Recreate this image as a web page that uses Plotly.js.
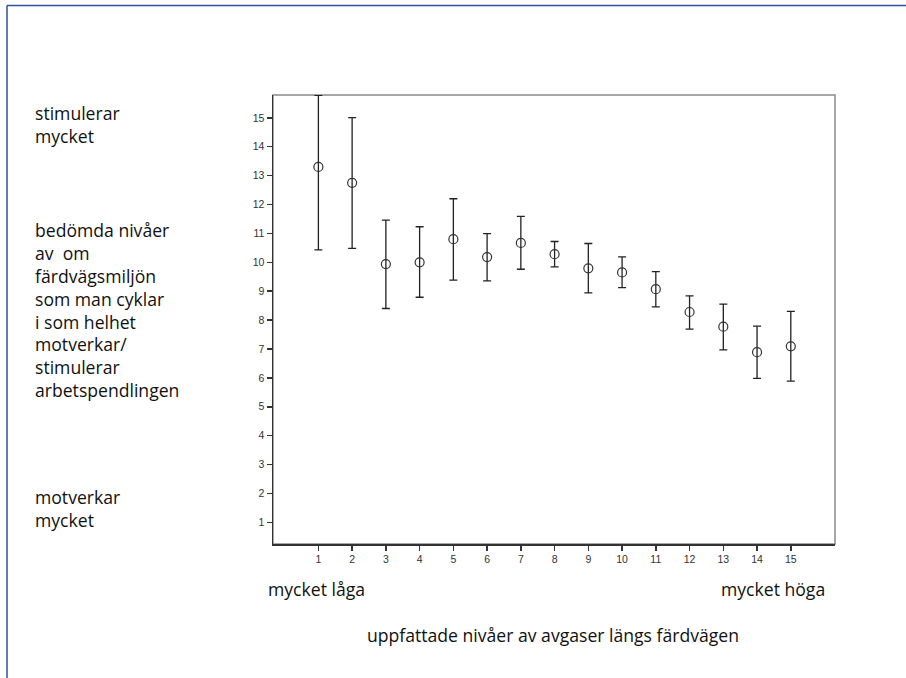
<!DOCTYPE html>
<html>
<head>
<meta charset="utf-8">
<script src="https://cdn.plot.ly/plotly-3.0.1.min.js"></script>
<style>
html,body{margin:0;padding:0;background:#fff;}
#chart{width:906px;height:678px;}
</style>
</head>
<body>
<div id="chart"></div>
<script>
// Data
const categories = [1,2,3,4,5,6,7,8,9,10,11,12,13,14,15];
const means = [13.30,12.75,9.94,10.00,10.80,10.18,10.67,10.28,9.79,9.65,9.07,8.28,7.77,6.89,7.09];
const upper = [15.78,15.01,11.46,11.23,12.20,10.99,11.59,10.72,10.65,10.19,9.68,8.84,8.55,7.79,8.30];
const lower = [10.43,10.48,8.40,8.79,9.38,9.36,9.76,9.84,8.94,9.12,8.46,7.69,6.97,5.98,5.89];
const yTicks = [1,2,3,4,5,6,7,8,9,10,11,12,13,14,15];
const xTicks = [1,2,3,4,5,6,7,8,9,10,11,12,13,14,15];

const topLabel = ["stimulerar","mycket"];
const midLabel = ["bedömda nivåer","av  om","färdvägsmiljön","som man cyklar","i som helhet","motverkar/","stimulerar","arbetspendlingen"];
const bottomLabel = ["motverkar","mycket"];
const xLowLabel = "mycket låga";
const xHighLabel = "mycket höga";
const xTitle = "uppfattade nivåer av avgaser längs färdvägen";

const W = 906, H = 678;
const M = {l:273, r:71, t:95, b:134};
const pw = W - M.l - M.r, ph = H - M.t - M.b;
const px = x => (x - M.l) / pw;
const py = y => (H - M.b - y) / ph;

const errPlus = upper.map((u,i) => u - means[i]);
const errMinus = lower.map((l,i) => means[i] - l);

const trace = {
  x: categories, y: means, type: 'scatter', mode: 'markers',
  marker: {symbol: 'circle-open', size: 9, color: '#333', line: {width: 1.2, color: '#333'}},
  error_y: {type: 'data', symmetric: false, array: errPlus, arrayminus: errMinus,
            color: '#222', thickness: 1.3, width: 4},
  showlegend: false, hoverinfo: 'skip'
};

const font = "'Open Sans', sans-serif";
const fs = 17.6;
const ann = [];
function addBlock(lines, x, yc){
  ann.push({text: lines.join('<br>'), xref:'paper', yref:'paper', x: px(x), y: py(yc),
    xanchor:'left', yanchor:'middle', align:'left', showarrow:false, font:{family: font, size: fs, color:'#111'}});
}
addBlock(topLabel, 33, 124.5);
addBlock(midLabel, 33, 309.5);
addBlock(bottomLabel, 33, 508.5);
ann.push({text: xLowLabel, xref:'paper', yref:'paper', x: px(266), y: py(589), xanchor:'left', yanchor:'middle', showarrow:false, font:{family: font, size: fs, color:'#111'}});
ann.push({text: xHighLabel, xref:'paper', yref:'paper', x: px(827), y: py(589), xanchor:'right', yanchor:'middle', showarrow:false, font:{family: font, size: fs, color:'#111'}});
ann.push({text: xTitle, xref:'paper', yref:'paper', x: px(553), y: py(635), xanchor:'center', yanchor:'middle', showarrow:false, font:{family: font, size: fs, color:'#111'}});

const shapes = [
  {type:'rect', xref:'paper', yref:'paper', x0:0, x1:1, y0:0, y1:1, line:{color:'#8a8a8a', width:1.5}, layer:'below'},
  {type:'line', xref:'paper', yref:'paper', x0:px(7), x1:px(906), y0:py(5.5), y1:py(5.5), line:{color:'#2f4fa0', width:1.5}},
  {type:'line', xref:'paper', yref:'paper', x0:px(7), x1:px(7), y0:py(5.5), y1:py(678), line:{color:'#2f4fa0', width:1.5}}
];

const layout = {
  width: W, height: H, margin: M,
  paper_bgcolor:'#fff', plot_bgcolor:'#fff',
  showlegend:false,
  xaxis: {range:[-0.345, 16.31], tickvals: xTicks, ticktext: xTicks.map(String), ticks:'outside', ticklen:5, tickwidth:1.5, tickcolor:'#333',
          showgrid:false, zeroline:false, showline:true, linecolor:'#333', linewidth:1.5,
          tickfont:{family:"'Liberation Sans', Arial, sans-serif", size:10.5, color:'#333'}},
  yaxis: {range:[0.25, 15.79], tickvals: yTicks, ticktext: yTicks.map(String), ticks:'outside', ticklen:5, tickwidth:1.5, tickcolor:'#333',
          showgrid:false, zeroline:false, showline:true, linecolor:'#333', linewidth:1.5,
          tickfont:{family:"'Liberation Sans', Arial, sans-serif", size:10.5, color:'#333'}},
  annotations: ann,
  shapes: shapes
};

Plotly.newPlot('chart', [trace], layout, {displayModeBar:false, staticPlot:true});
</script>
</body>
</html>
